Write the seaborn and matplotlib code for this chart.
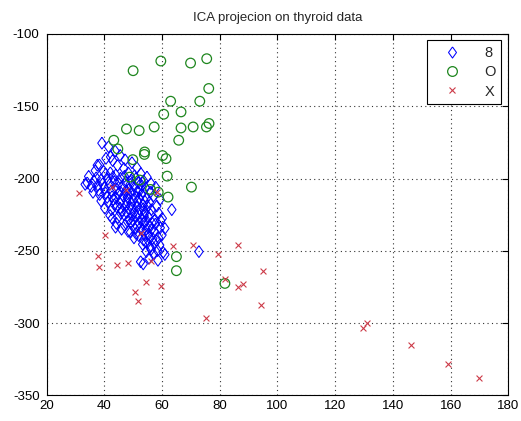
import numpy as np
import pandas as pd
import seaborn as sns
import matplotlib
matplotlib.use("Agg")
import matplotlib.pyplot as plt
from matplotlib.lines import Line2D

# ---- data ----
blue_x = [39.2, 41.5, 43.8, 45.5, 40.6, 42.9, 47.2, 49.6, 38.3, 44.6, 46.8, 51.3, 36.9, 39.8, 42.1, 44.0,
          48.3, 50.5, 52.7, 54.8, 34.6, 37.2, 38.9, 41.2, 43.5, 45.6, 47.4, 49.4, 51.8, 53.6, 56.2, 57.8,
          33.4, 35.5, 37.8, 40.1, 41.9, 44.2, 46.1, 48.5, 50.2, 52.4, 54.3, 55.9, 36.1, 38.4, 40.5, 42.7,
          44.9, 46.6, 48.1, 50.8, 52.9, 54.7, 57.1, 59.3, 38.9, 41.3, 43.1, 45.4, 47.7, 49.3, 51.5, 53.4,
          55.6, 58.2, 40.2, 42.5, 44.3, 46.2, 48.6, 50.4, 52.2, 54.1, 56.3, 58.9, 63.4, 42.0, 44.7, 46.9,
          48.8, 50.9, 53.2, 55.3, 57.4, 60.1, 44.2, 47.1, 49.2, 51.4, 53.5, 55.8, 57.7, 59.4, 48.3, 51.0,
          53.1, 55.4, 57.2, 60.0, 50.3, 53.6, 55.5, 58.1, 53.3, 55.9, 59.2, 54.6, 57.0, 60.4, 72.8, 52.6,
          55.5, 58.6, 53.5, 43.0, 45.0, 47.0, 49.0, 51.0, 53.0, 42.5, 45.5, 47.5, 49.5, 51.5, 53.5, 44.0,
          46.0, 48.0, 50.0, 52.0, 54.0, 43.5, 45.5, 47.5, 49.5, 51.5, 53.5, 55.0, 45.8, 47.8, 49.8, 51.8,
          53.8, 56.0, 48.0, 50.0, 52.0, 54.2, 56.5, 50.5, 52.5, 54.5, 56.5, 52.0, 54.2, 56.8, 58.8, 54.5,
          57.3, 56.2, 58.5, 40.5, 38.0, 36.5, 41.0, 39.5, 42.8, 43.9, 49.1, 46.0, 61.0, 59.5, 61.0, 42.2,
          37.6, 34.1]
blue_y = [-175.5, -178.0, -181.0, -184.0, -186.0, -187.5, -187.0, -189.0, -190.5, -191.0, -193.0, -192.5,
          -194.5, -195.0, -196.0, -197.5, -196.0, -198.0, -196.5, -199.0, -198.5, -199.5, -201.0, -200.5,
          -202.0, -199.8, -202.5, -201.0, -203.0, -201.5, -203.5, -206.0, -204.0, -205.5, -204.5, -206.5,
          -204.0, -207.0, -205.5, -207.5, -205.0, -208.0, -206.5, -209.5, -209.5, -211.0, -210.0, -212.5,
          -210.5, -212.0, -210.5, -212.5, -211.0, -213.5, -212.0, -214.5, -215.5, -216.5, -214.5, -217.0,
          -215.5, -217.5, -216.0, -218.5, -216.5, -219.0, -220.5, -221.5, -219.5, -222.0, -220.5, -223.0,
          -221.0, -223.5, -221.5, -224.0, -221.5, -225.5, -227.0, -225.0, -228.0, -226.0, -228.5, -226.5,
          -229.0, -227.5, -231.0, -232.5, -230.5, -233.0, -231.0, -233.5, -231.5, -234.0, -236.5, -238.0,
          -236.0, -238.5, -236.5, -239.0, -241.0, -242.5, -240.5, -243.0, -245.5, -247.5, -246.0, -250.5,
          -252.0, -251.0, -250.5, -257.5, -255.0, -256.5, -259.0, -199.0, -203.5, -198.5, -204.0, -200.0,
          -205.0, -208.5, -209.0, -208.5, -209.5, -208.8, -209.2, -213.5, -214.5, -213.0, -214.8, -213.8,
          -215.5, -218.0, -220.5, -218.8, -220.2, -219.5, -220.8, -219.2, -224.0, -223.5, -225.2, -224.5,
          -225.8, -224.8, -229.5, -229.0, -230.2, -229.7, -230.5, -234.5, -234.0, -235.2, -234.8, -239.5,
          -238.8, -241.5, -241.0, -244.0, -245.0, -249.0, -249.8, -197.0, -208.0, -202.0, -213.0, -203.5,
          -227.6, -233.6, -237.1, -235.0, -234.5, -229.0, -252.5, -185.0, -190.8, -203.0]

green_x = [50.0, 59.6, 69.9, 75.5, 76.2, 63.0, 73.1, 66.6, 60.6, 47.7, 52.1, 57.3, 66.6, 70.8, 75.4, 76.3,
           65.8, 43.3, 44.7, 49.9, 54.0, 53.9, 60.2, 61.4, 61.8, 70.2, 48.8, 52.3, 56.0, 58.7, 62.1, 65.0,
           65.0, 81.8]
green_y = [-125.4, -118.7, -120.1, -117.1, -137.7, -146.5, -146.5, -153.9, -155.5, -165.7, -166.8, -164.3,
           -165.0, -164.3, -164.3, -161.9, -173.5, -173.5, -179.5, -186.9, -181.6, -183.3, -184.1, -186.2,
           -198.3, -205.9, -199.0, -201.0, -207.5, -209.4, -212.8, -254.0, -263.7, -272.5]

red_x = [31.4, 42.8, 47.4, 58.4, 40.1, 52.8, 37.9, 38.1, 44.5, 48.4, 56.3, 54.3, 50.8, 51.8, 59.5, 63.9,
         70.6, 79.5, 86.3, 82.0, 86.3, 88.2, 95.1, 94.2, 75.4, 130.9, 129.8, 146.4, 159.2, 170.0]
red_y = [-210.0, -206.0, -207.7, -209.0, -239.0, -237.3, -253.3, -261.4, -259.7, -258.3, -256.9, -271.3,
         -278.7, -284.7, -274.5, -246.5, -245.6, -252.1, -245.6, -269.7, -275.2, -273.2, -263.7, -287.2,
         -296.7, -299.7, -303.0, -315.0, -328.4, -337.9]

labels = ["8", "O", "X"]
title = "ICA projecion on thyroid data"
x_ticks = [20, 40, 60, 80, 100, 120, 140, 160, 180]
y_ticks = [-350, -300, -250, -200, -150, -100]

# ---- styling ----
sns.set_style("white")
plt.rcParams["font.family"] = ["Liberation Sans", "DejaVu Sans"]
plt.rcParams["axes.unicode_minus"] = False

fig = plt.figure(figsize=(5.21, 4.21), dpi=100)
ax = fig.add_axes([0.0893, 0.0606, 0.8864, 0.8587])

diamond = [(0, 1), (0.72, 0), (0, -1), (-0.72, 0), (0, 1)]
colors = ["#0000ff", "#1e861e", "#cc3a48"]

df = pd.concat([
    pd.DataFrame({"x": blue_x, "y": blue_y, "cls": labels[0]}),
    pd.DataFrame({"x": green_x, "y": green_y, "cls": labels[1]}),
    pd.DataFrame({"x": red_x, "y": red_y, "cls": labels[2]}),
], ignore_index=True)

specs = [(labels[0], diamond, 72, 0.75, colors[0]),
         (labels[1], "o", 48, 0.9, colors[1]),
         (labels[2], "x", 18, 0.8, colors[2])]
for lab, mk, s, lw, col in specs:
    sub = df[df["cls"] == lab]
    sns.scatterplot(data=sub, x="x", y="y", marker=mk, s=s, color=col, ax=ax,
                    linewidth=lw, legend=False)
    coll = ax.collections[-1]
    if lab != "X":
        coll.set_facecolor("none")
    coll.set_edgecolor(col)
    coll.set_linewidth(lw)

ax.set_xlim(20, 180)
ax.set_ylim(-350, -100)
ax.set_xticks(x_ticks)
ax.set_yticks(y_ticks)
ax.set_xlabel("")
ax.set_ylabel("")
ax.grid(True, linestyle=(0, (1, 3)), color="#333333", linewidth=0.8)
ax.tick_params(direction="in", length=4, width=0.8, top=True, right=True,
               labelsize=9.5, colors="black")
ax.tick_params(axis="x", pad=3)
ax.tick_params(axis="y", pad=5)
for sp in ax.spines.values():
    sp.set_visible(True)
    sp.set_color("black")
    sp.set_linewidth(0.8)
ax.set_title(title, fontsize=9.5, pad=9)

handles = [Line2D([], [], linestyle="none", marker=diamond, markersize=8, markerfacecolor="none",
                  markeredgecolor=colors[0], markeredgewidth=0.75),
           Line2D([], [], linestyle="none", marker="o", markersize=7, markerfacecolor="none",
                  markeredgecolor=colors[1], markeredgewidth=0.9),
           Line2D([], [], linestyle="none", marker="x", markersize=4.5, markeredgecolor=colors[2],
                  markeredgewidth=0.8)]
leg = ax.legend(handles, labels, loc="upper right", bbox_to_anchor=(0.985, 0.982),
                fancybox=False, framealpha=1, edgecolor="black", fontsize=10.5,
                handlelength=2.6, handletextpad=0.9, borderpad=0.4, labelspacing=0.35,
                borderaxespad=0)
leg.get_frame().set_linewidth(0.8)

fig.savefig("out.png", dpi=100)
